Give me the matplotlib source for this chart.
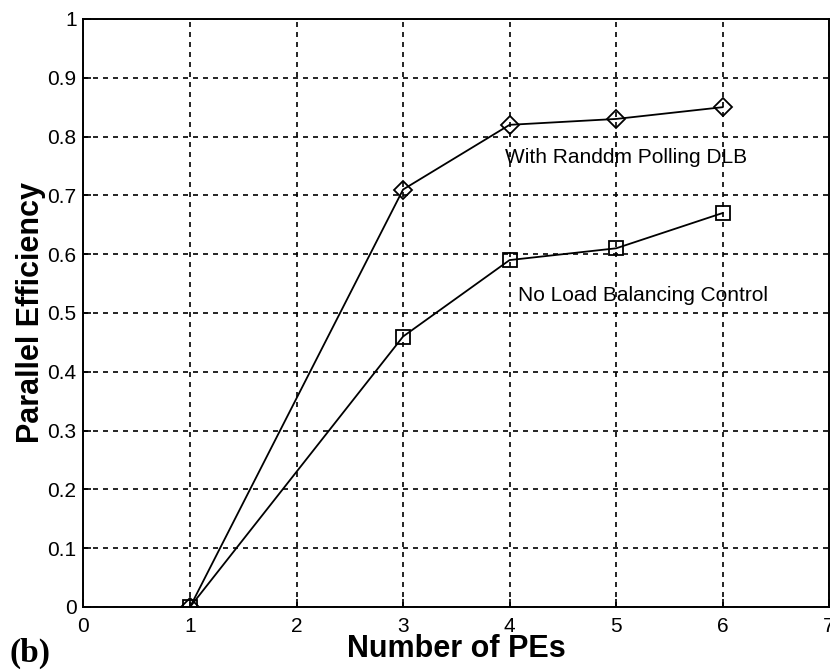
import numpy as np
import matplotlib.pyplot as plt

pes = [1, 3, 4, 5, 6]
eff_dlb = [0.0, 0.71, 0.82, 0.83, 0.85]
eff_none = [0.0, 0.46, 0.59, 0.61, 0.67]

xticks = list(range(0, 8))
yticks = [round(v, 1) for v in np.arange(0, 1.01, 0.1)]
ytick_labels = ['0', '0.1', '0.2', '0.3', '0.4', '0.5', '0.6', '0.7', '0.8', '0.9', '1']

plt.rcParams['font.family'] = 'Liberation Sans'

fig = plt.figure(figsize=(8.3, 6.71), dpi=100)
ax = fig.add_axes([0.1006, 0.0954, 0.8984, 0.8763])

ax.plot(pes, eff_dlb, color='black', lw=1.3, marker='D', ms=9,
        mfc='none', mec='black', mew=1.3)
ax.plot(pes, eff_none, color='black', lw=1.3, marker='s', ms=10,
        mfc='none', mec='black', mew=1.3)

ax.text(3.96, 0.765, 'With Randdm Polling DLB', fontsize=15, va='center')
ax.text(4.08, 0.53, 'No Load Balancing Control', fontsize=15, va='center')

ax.set_xlim(0, 7)
ax.set_ylim(0, 1)
ax.set_xticks(xticks)
ax.set_yticks(yticks)
ax.set_yticklabels(ytick_labels)
ax.tick_params(direction='in', length=6, width=1.2, labelsize=15)
ax.tick_params(axis='x', pad=7)
ax.tick_params(axis='y', pad=5)
ax.grid(True, color='black', ls=(0, (3, 3)), lw=1.2)
for s in ax.spines.values():
    s.set_linewidth(1.4)

ax.set_xlabel('Number of PEs', fontsize=22, fontweight='bold', labelpad=-1)
ax.set_ylabel('Parallel Efficiency', fontsize=22, fontweight='bold', labelpad=1)
fig.text(0.012, 0.014, '(b)', fontsize=24, fontweight='bold', family='Liberation Serif')

fig.savefig('out.png', dpi=100)
